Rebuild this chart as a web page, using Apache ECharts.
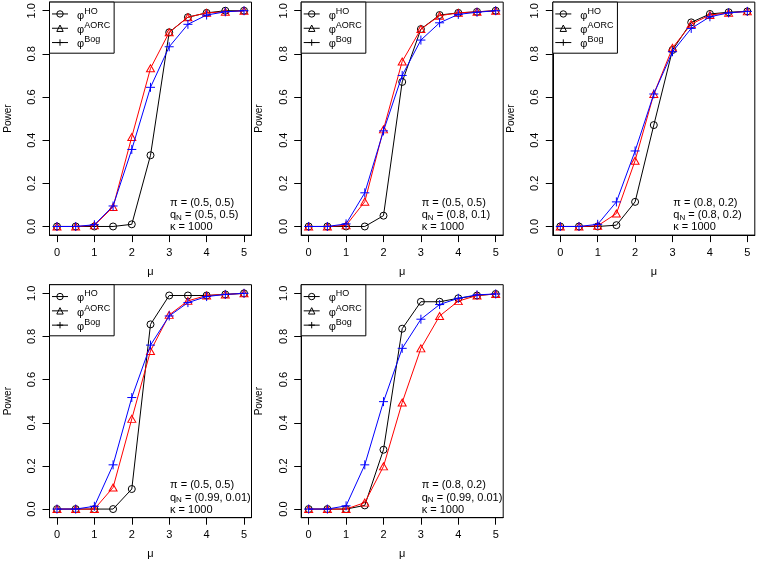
<!DOCTYPE html>
<html>
<head>
<meta charset="utf-8">
<script src="https://cdn.jsdelivr.net/npm/echarts@6/dist/echarts.min.js"></script>
<style>html,body{margin:0;padding:0;background:#fff}#c{width:757px;height:568px}</style>
</head>
<body>
<div id="c"></div>
<script>
// ---- data ----
const mu = [0, 0.5, 1, 1.5, 2, 2.5, 3, 3.5, 4, 4.5, 5];
const xTicks = [0, 1, 2, 3, 4, 5];
const yTicks = [0, 0.2, 0.4, 0.6, 0.8, 1.0];
const seriesNames = ['HO', 'AORC', 'Bog'];

const p1_HO   = [0, 0, 0, 0, 0.01, 0.33, 0.90, 0.97, 0.99, 1.0, 1.0];
const p1_AORC = [0, 0, 0.005, 0.09, 0.415, 0.733, 0.90, 0.97, 0.99, 0.995, 1.0];
const p1_Bog  = [0, 0, 0.008, 0.095, 0.357, 0.645, 0.833, 0.937, 0.98, 0.995, 1.0];

const p2_HO   = [0, 0, 0, 0, 0.05, 0.67, 0.915, 0.98, 0.99, 0.995, 1.0];
const p2_AORC = [0, 0, 0.005, 0.115, 0.45, 0.765, 0.915, 0.977, 0.99, 0.995, 1.0];
const p2_Bog  = [0, 0, 0.012, 0.156, 0.443, 0.70, 0.864, 0.944, 0.983, 0.993, 1.0];

const p3_HO   = [0, 0, 0, 0.006, 0.114, 0.47, 0.818, 0.946, 0.985, 0.993, 0.997];
const p3_AORC = [0, 0, 0.003, 0.06, 0.305, 0.614, 0.828, 0.938, 0.98, 0.99, 0.997];
const p3_Bog  = [0, 0, 0.01, 0.114, 0.35, 0.614, 0.81, 0.918, 0.972, 0.99, 0.997];

const p4_HO   = [0, 0, 0, 0, 0.093, 0.856, 0.99, 0.99, 0.99, 0.995, 1.0];
const p4_AORC = [0, 0, 0, 0.10, 0.418, 0.733, 0.90, 0.965, 0.99, 0.995, 1.0];
const p4_Bog  = [0, 0, 0.013, 0.205, 0.517, 0.76, 0.895, 0.957, 0.985, 0.995, 1.0];

const p5_HO   = [0, 0, 0, 0.017, 0.275, 0.836, 0.961, 0.961, 0.977, 0.99, 0.997];
const p5_AORC = [0, 0, 0, 0.03, 0.198, 0.494, 0.745, 0.895, 0.964, 0.99, 0.997];
const p5_Bog  = [0, 0, 0.015, 0.205, 0.498, 0.745, 0.88, 0.948, 0.977, 0.993, 0.997];

const piLabels = ['(0.5, 0.5)', '(0.5, 0.5)', '(0.8, 0.2)', '(0.5, 0.5)', '(0.8, 0.2)'];
const qLabels  = ['(0.5, 0.5)', '(0.8, 0.1)', '(0.8, 0.2)', '(0.99, 0.01)', '(0.99, 0.01)'];
const kappaLabel = '1000';

const panels = [
  [p1_HO, p1_AORC, p1_Bog],
  [p2_HO, p2_AORC, p2_Bog],
  [p3_HO, p3_AORC, p3_Bog],
  [p4_HO, p4_AORC, p4_Bog],
  [p5_HO, p5_AORC, p5_Bog]
];

// ---- layout ----
const FONT = '"Liberation Sans", Arial, Helvetica, sans-serif';
const W = 202, H = 233;
const boxes = [
  {left: 49.5, top: 2.1},
  {left: 301.2, top: 2.1},
  {left: 552.8, top: 2.1},
  {left: 49.5, top: 284.7},
  {left: 301.2, top: 284.7}
];
const colors = ['#000000', '#FF0000', '#0000FF'];
const symbols = ['circle', 'triangle', 'path://M5,0 L5,10 M0,5 L10,5'];
const symSizes = [7, [8, 7], 9];

const grid = [], xAxis = [], yAxis = [], series = [], legend = [], graphic = [];

boxes.forEach((b, i) => {
  grid.push({left: b.left, top: b.top, width: W, height: H, show: true,
    borderColor: '#000', borderWidth: 1, backgroundColor: 'transparent'});
  xAxis.push({
    type: 'value', gridIndex: i, min: -0.2, max: 5.2,
    name: 'μ', nameLocation: 'middle', nameGap: 31,
    nameTextStyle: {fontFamily: FONT, fontSize: 11, color: '#000'},
    axisLine: {show: true, onZero: false, lineStyle: {color: '#000', width: 1}},
    axisTick: {show: true, length: 7, lineStyle: {color: '#000'}, customValues: xTicks},
    axisLabel: {fontFamily: FONT, fontSize: 11, color: '#000', margin: 12, customValues: xTicks,
      formatter: v => String(v)},
    splitLine: {show: false}
  });
  yAxis.push({
    type: 'value', gridIndex: i, min: -0.04, max: 1.04,
    name: 'Power', nameLocation: 'middle', nameGap: 36.5, nameRotate: 90,
    nameTextStyle: {fontFamily: FONT, fontSize: 10, color: '#000'},
    axisLine: {show: true, onZero: false, lineStyle: {color: '#000', width: 1}},
    axisTick: {show: true, length: 7, lineStyle: {color: '#000'}, customValues: yTicks},
    axisLabel: {fontFamily: FONT, fontSize: 11, color: '#000', margin: 12, rotate: 90,
      customValues: yTicks, formatter: v => v.toFixed(1)},
    splitLine: {show: false}
  });
  panels[i].forEach((vals, k) => {
    series.push({
      type: 'line', name: seriesNames[k], xAxisIndex: i, yAxisIndex: i,
      data: mu.map((x, j) => [x, vals[j]]),
      symbol: symbols[k], symbolSize: symSizes[k], showAllSymbol: true,
      lineStyle: {color: colors[k], width: 1},
      itemStyle: {color: 'rgba(0,0,0,0)', borderColor: colors[k], borderWidth: 1},
      emphasis: {disabled: true}, animation: false, z: 2 + k
    });
  });
  legend.push({
    orient: 'vertical', left: b.left, top: b.top,
    padding: [4.7, 4, 3.5, 2], itemGap: 0, itemWidth: 16, itemHeight: 8,
    borderColor: '#000', borderWidth: 1, borderRadius: 0, backgroundColor: '#fff',
    selectedMode: false,
    data: seriesNames.map((n, k) => ({
      name: n,
      itemStyle: {color: 'rgba(0,0,0,0)', borderColor: '#000', borderWidth: 1},
      lineStyle: {color: '#000', width: 1}
    })),
    formatter: n => '{p|φ}{s|' + n + '}',
    textStyle: {fontFamily: FONT, color: '#000',
      rich: {
        p: {fontFamily: FONT, fontSize: 11, lineHeight: 14.3, verticalAlign: 'bottom', color: '#000', padding: [0, 0, 0, 4]},
        s: {fontFamily: FONT, fontSize: 9, lineHeight: 14.3, verticalAlign: 'top', color: '#000'}
      }}
  });
  const tx = b.left + 120.5, ty = b.top + 195;
  const rich = {n: {fontFamily: FONT, fontSize: 11, color: '#000'},
                s: {fontFamily: FONT, fontSize: 8, color: '#000', padding: [5, 0, 0, 0]}};
  graphic.push({type: 'text', left: tx, top: ty, silent: true,
    style: {text: '{n|π = ' + piLabels[i] + '}', rich: rich, fill: '#000'}});
  graphic.push({type: 'text', left: tx, top: ty + 12.3, silent: true,
    style: {text: '{n|q}{s|N}{n| = ' + qLabels[i] + '}', rich: rich, fill: '#000'}});
  graphic.push({type: 'text', left: tx, top: ty + 24.6, silent: true,
    style: {text: '{n|κ = ' + kappaLabel + '}', rich: rich, fill: '#000'}});
});

const chart = echarts.init(document.getElementById('c'), null, {renderer: 'canvas'});
chart.setOption({
  animation: false, backgroundColor: '#fff',
  grid, xAxis, yAxis, series, legend, graphic
});
</script>
</body>
</html>
